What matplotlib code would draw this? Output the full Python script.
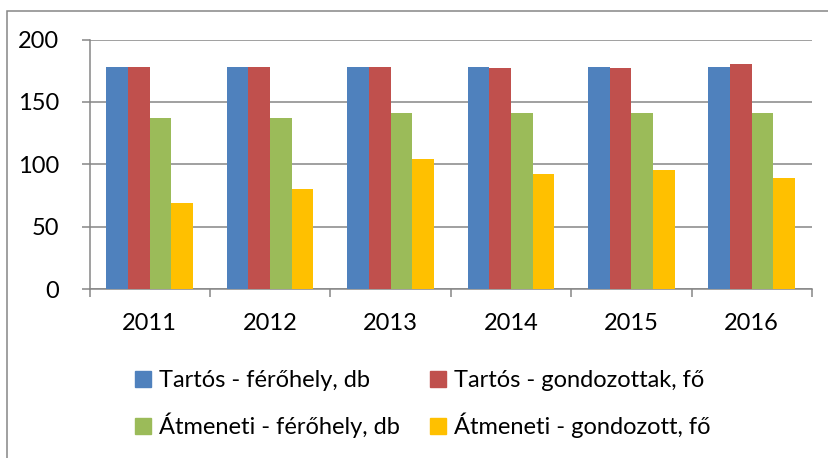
import matplotlib
matplotlib.use("Agg")
import matplotlib.pyplot as plt
import numpy as np
from matplotlib.patches import Rectangle, Patch

years = ["2011", "2012", "2013", "2014", "2015", "2016"]
series_names = ["Tartós - férőhely, db", "Tartós - gondozottak, fő",
                "Átmeneti - férőhely, db", "Átmeneti - gondozott, fő"]
tartos_ferohely = [178, 178, 178, 178, 178, 178]
tartos_gondozott = [178, 178, 178, 177, 177, 180]
atmeneti_ferohely = [137, 137, 141, 141, 141, 141]
atmeneti_gondozott = [69, 80, 104, 92, 95, 89]
colors = ["#4F81BD", "#C0504D", "#9BBB59", "#FFC000"]

plt.rcParams["font.family"] = ["Lato", "DejaVu Sans"]

W, H = 829, 458
fig = plt.figure(figsize=(W / 100, H / 100), dpi=100)
ax = fig.add_axes([89.5 / W, (H - 289) / H, (812 - 89.5) / W, 249.5 / H])

x = np.arange(len(years))
bw = 0.18
data = [tartos_ferohely, tartos_gondozott, atmeneti_ferohely, atmeneti_gondozott]
for i, (vals, c) in enumerate(zip(data, colors)):
    ax.bar(x + (i - 1.5) * bw, vals, bw, color=c, zorder=3)

ax.set_xlim(-0.5, len(years) - 0.5)
ax.set_ylim(0, 200)
ax.set_yticks([0, 50, 100, 150, 200])
ax.yaxis.grid(True, color="#868686", linewidth=1.1, zorder=0)
ax.set_axisbelow(True)

ax.set_xticks(np.arange(-0.5, len(years), 1.0))
ax.set_xticklabels([])
ax.set_xticks(x, minor=True)
ax.set_xticklabels(years, minor=True)
ax.tick_params(axis="x", which="major", length=6, color="#868686", width=1.1, direction="out")
ax.tick_params(axis="x", which="minor", length=0, labelsize=17, pad=17)
ax.tick_params(axis="y", length=6, color="#868686", width=1.1, labelsize=17, pad=16)

for s in ["top", "right"]:
    ax.spines[s].set_visible(False)
for s in ["left", "bottom"]:
    ax.spines[s].set_color("#868686")
    ax.spines[s].set_linewidth(1.1)

# matplotlib fills legend by column, reorder so rows read like the original
order = [0, 2, 1, 3]
handles = [Patch(color=colors[i]) for i in order]
labels = [series_names[i] for i in order]
fig.legend(handles, labels, ncol=2, loc="upper left",
           bbox_to_anchor=(114 / W, 1 - 349 / H), frameon=False,
           fontsize=17, handlelength=0.65, handleheight=0.65,
           handletextpad=0.35, columnspacing=1.3, labelspacing=0.9)

fig.patches.append(Rectangle((7 / W, -0.1), 1.0, 1 - 11 / H + 0.1,
                             transform=fig.transFigure, fill=False,
                             edgecolor="#868686", linewidth=1.1))

fig.savefig("out.png", dpi=100)
